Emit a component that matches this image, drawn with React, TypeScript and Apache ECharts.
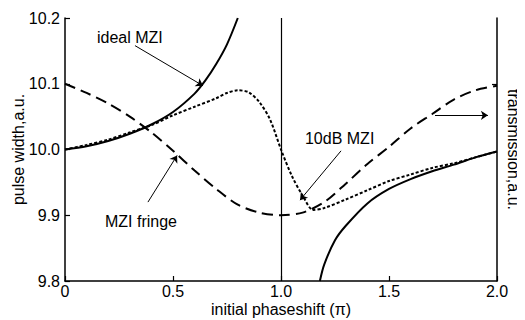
import React, { useEffect, useRef } from "react";
import * as echarts from "echarts";

// Phase shift positions (units of π)
const idealLowX = [0, 0.1, 0.2, 0.3, 0.4, 0.5, 0.6, 0.65, 0.7, 0.75, 0.8];
const idealLowY = [10.0, 10.005, 10.013, 10.024, 10.038, 10.057, 10.085, 10.105, 10.13, 10.16, 10.2];
const idealHighX = [1.18, 1.2, 1.25, 1.3, 1.4, 1.5, 1.6, 1.7, 1.8, 1.9, 2.0];
const idealHighY = [9.8, 9.825, 9.862, 9.884, 9.918, 9.94, 9.955, 9.967, 9.977, 9.988, 9.997];

const tenDbX = [0, 0.1, 0.2, 0.3, 0.4, 0.5, 0.6, 0.7, 0.75, 0.8, 0.85, 0.9, 0.95, 1.0, 1.05, 1.1, 1.15, 1.2, 1.3, 1.4, 1.5, 1.6, 1.7, 1.8, 1.9, 2.0];
const tenDbY = [10.0, 10.007, 10.015, 10.026, 10.037, 10.052, 10.065, 10.078, 10.086, 10.09, 10.087, 10.072, 10.045, 10.0, 9.96, 9.93, 9.908, 9.911, 9.924, 9.938, 9.952, 9.962, 9.972, 9.979, 9.988, 9.997];

const fringeX = [0, 0.1, 0.2, 0.3, 0.4, 0.5, 0.6, 0.7, 0.8, 0.9, 1.0, 1.1, 1.2, 1.3, 1.4, 1.5, 1.6, 1.7, 1.8, 1.9, 2.0];
const fringeT = [1.0, 0.93, 0.85, 0.75, 0.63, 0.49, 0.34, 0.2, 0.08, 0.02, 0, 0.02, 0.1, 0.24, 0.39, 0.52, 0.66, 0.77, 0.88, 0.95, 0.985];

const xTicks = [0, 0.5, 1.0, 1.5, 2.0];

const FONT = "Liberation Sans";
const INK = "#000";

const zip = (xs: number[], ys: number[]) => xs.map((x, i) => [x, ys[i]]);

// Annotation anchors in data coordinates
const notes = [
  { text: "ideal MZI", at: [0.148, 10.17] },
  { text: "MZI fringe", at: [0.185, 9.891] },
  { text: "10dB MZI", at: [1.111, 10.017] },
];
const arrows = [
  { from: [0.324, 10.158], to: [0.639, 10.097] },
  { from: [0.384, 9.92], to: [0.519, 9.991] },
  { from: [1.278, 9.998], to: [1.088, 9.923] },
  { from: [1.713, 10.052], to: [1.958, 10.052] },
];

export default function App() {
  const ref = useRef<HTMLDivElement>(null);

  useEffect(() => {
    if (!ref.current) return;
    const chart = echarts.init(ref.current, null, { renderer: "svg" });
    const axisText = { color: INK, fontFamily: FONT, fontSize: 16 };

    chart.setOption({
      animation: false,
      backgroundColor: "#fff",
      grid: { left: 65, right: 28, top: 18, bottom: 39, outerBoundsMode: "none", containLabel: false },
      xAxis: {
        type: "value",
        min: 0,
        max: 2,
        interval: 0.5,
        name: "initial phaseshift (\u03c0)",
        nameLocation: "middle",
        nameGap: 20,
        nameMoveOverlap: false,
        nameTextStyle: axisText,
        axisLine: { onZero: false, lineStyle: { color: INK, width: 1.5 } },
        axisTick: { inside: true, length: 5, lineStyle: { color: INK, width: 1.2 } },
        axisLabel: {
          ...axisText,
          margin: 2,
          formatter: (v: number) => (xTicks.includes(v) ? (v === 0 ? "0" : v.toFixed(1)) : ""),
        },
        splitLine: { show: false },
      },
      yAxis: [
        {
          type: "value",
          min: 9.8,
          max: 10.2,
          interval: 0.1,
          name: "pulse width,a.u.",
          nameLocation: "middle",
          nameRotate: 90,
          nameGap: 39,
          nameMoveOverlap: false,
          nameTextStyle: axisText,
          axisLine: { show: true, onZero: false, lineStyle: { color: INK, width: 1.5 } },
          axisTick: { show: true, inside: true, length: 5, lineStyle: { color: INK, width: 1.2 } },
          axisLabel: { ...axisText, margin: 5, formatter: (v: number) => v.toFixed(1) },
          splitLine: { show: false },
        },
        {
          type: "value",
          position: "right",
          min: -0.5,
          max: 1.5,
          interval: 0.5,
          name: "transmission,a.u.",
          nameLocation: "middle",
          nameRotate: -90,
          nameGap: 8,
          nameMoveOverlap: false,
          nameTextStyle: axisText,
          axisLine: { show: true, onZero: false, lineStyle: { color: INK, width: 1.5 } },
          axisTick: { show: true, inside: true, length: 5, customValues: [1], lineStyle: { color: INK, width: 1.2 } },
          axisLabel: { show: false },
          splitLine: { show: false },
        },
      ],
      series: [
        {
          name: "ideal MZI",
          type: "line",
          data: zip(idealLowX, idealLowY),
          smooth: 0.3,
          showSymbol: false,
          lineStyle: { color: INK, width: 2 },
          // vertical reference line at a phase shift of π
          markLine: {
            silent: true,
            symbol: "none",
            label: { show: false },
            lineStyle: { color: INK, width: 1.2, type: "solid" },
            data: [{ xAxis: 1 }],
          },
        },
        {
          name: "ideal MZI (upper branch)",
          type: "line",
          data: zip(idealHighX, idealHighY),
          smooth: 0.3,
          showSymbol: false,
          lineStyle: { color: INK, width: 2 },
          // annotation arrows
          markLine: {
            silent: true,
            symbol: ["none", "arrow"],
            symbolSize: 7,
            label: { show: false },
            lineStyle: { color: INK, width: 1, type: "solid" },
            data: arrows.map((a) => [{ coord: a.from }, { coord: a.to }]),
          },
        },
        {
          name: "10dB MZI",
          type: "line",
          data: zip(tenDbX, tenDbY),
          smooth: 0.3,
          showSymbol: false,
          lineStyle: { color: INK, width: 2, type: [3, 2] },
        },
        {
          name: "MZI fringe",
          type: "line",
          yAxisIndex: 1,
          data: zip(fringeX, fringeT),
          smooth: 0.3,
          showSymbol: false,
          lineStyle: { color: INK, width: 2, type: [11, 6] },
        },
      ],
    });

    // Text labels placed at data coordinates
    const graphics = notes.map((n) => {
      const [px, py] = chart.convertToPixel({ gridIndex: 0 }, n.at) as number[];
      return {
        type: "text",
        x: px,
        y: py,
        style: { text: n.text, fill: INK, font: `16px "${FONT}"`, textVerticalAlign: "middle" },
      };
    });
    chart.setOption({ graphic: graphics });

    return () => chart.dispose();
  }, []);

  return <div ref={ref} style={{ width: 525, height: 320, marginLeft: -8, marginTop: -8 }} />;
}
